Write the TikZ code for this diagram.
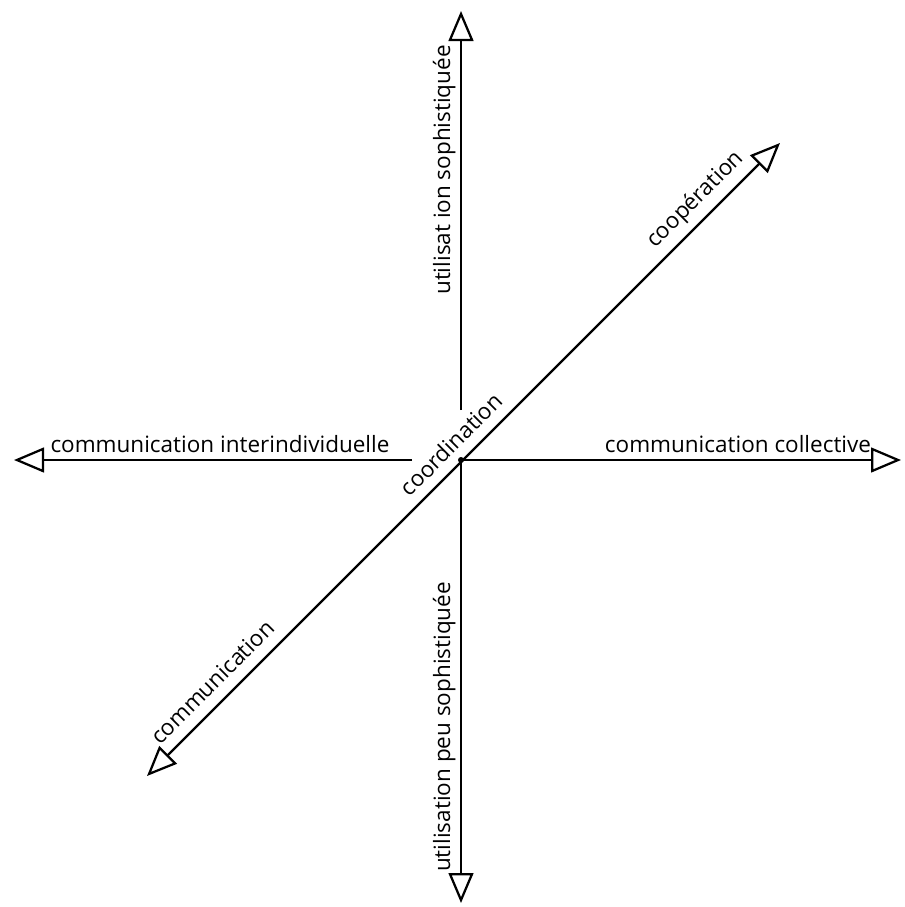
\documentclass[tikz,border=0pt]{standalone}
\usepackage{fontspec}
\setmainfont{Open Sans}
\usetikzlibrary{arrows.meta}
\begin{document}
\begin{tikzpicture}[x=0.025cm, y=-0.025cm,
    every node/.style={font=\fontsize{16}{19}\selectfont},
    >={Triangle[open, length=0.75cm, width=0.62cm, line width=1.6pt]},
    axis/.style={line width=1.6pt, ->},
    diag/.style={line width=1.6pt, <->},
    lbl/.style={inner sep=0pt, anchor=base}
  ]
  \useasboundingbox (0,0) rectangle (904,907);
  % axis ends
  \coordinate (o) at (461,460);
  \coordinate (top) at (461,11);
  \coordinate (topstart) at (461,410);
  \coordinate (bottom) at (461,903);
  \coordinate (left) at (14,460);
  \coordinate (leftstart) at (412,460);
  \coordinate (right) at (901,460);
  \coordinate (sw) at (147,776);
  \coordinate (ne) at (780,143);
  \draw[axis] (topstart) -- (top);
  \draw[axis] (o) -- (bottom);
  \draw[axis] (leftstart) -- (left);
  \draw[axis] (o) -- (right);
  \draw[diag] (sw) -- (ne);
  \node[circle, fill, inner sep=0pt, minimum size=0.15cm] (dot) at (o) {};
  % labels
  \node[lbl, rotate=90] (lblup) at (450,170) {utilisat ion sophistiquée};
  \node[lbl, rotate=90] (lbldown) at (450,727) {utilisation peu sophistiquée};
  \node[lbl] (lblleft) at (220,452) {communication interindividuelle};
  \node[lbl] (lblright) at (738,452) {communication collective};
  \node[lbl, rotate=45] (lblcoop) at (700,204) {coopération};
  \node[lbl, rotate=45] (lblcoord) at (457,450) {coordination};
  \node[lbl, rotate=45] (lblcomm) at (218,688) {communication};
\end{tikzpicture}
\end{document}
